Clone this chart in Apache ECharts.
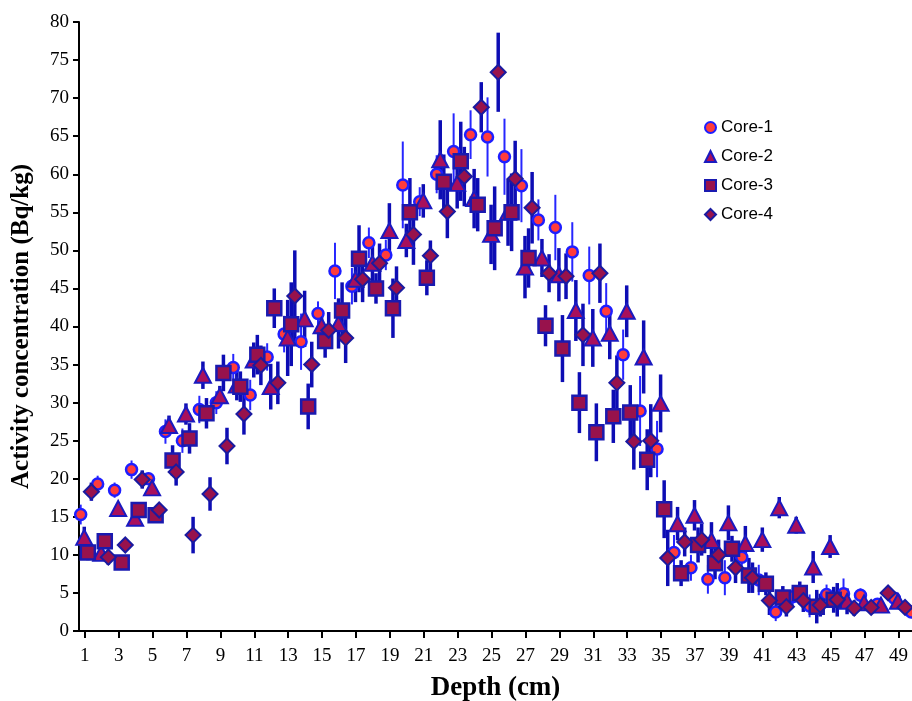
<!DOCTYPE html>
<html>
<head>
<meta charset="utf-8">
<script src="https://cdn.jsdelivr.net/npm/echarts@6/dist/echarts.min.js"></script>
<style>
html,body{margin:0;padding:0;background:#fff;}
#chart{width:912px;height:701px;}
</style>
</head>
<body>
<div id="chart"></div>
<script>
// Depth index (cm)
const depths = [1,2,3,4,5,6,7,8,9,10,11,12,13,14,15,16,17,18,19,20,21,22,23,24,25,26,27,28,29,30,31,32,33,34,35,36,37,38,39,40,41,42,43,44,45,46,47,48,49,50];
const xTickValues = [1,3,5,7,9,11,13,15,17,19,21,23,25,27,29,31,33,35,37,39,41,43,45,47,49];
const seriesNames = ['Core-1','Core-2','Core-3','Core-4'];

// Activity concentration (Bq/kg)
const core1 = [15.3,19.3,18.5,21.2,20.0,26.2,25.0,29.1,30.0,34.6,31.0,36.0,39.0,38.0,41.7,47.3,45.3,51.0,49.4,58.6,56.4,60.0,63.0,65.2,64.9,62.3,58.5,54.0,53.0,49.8,46.7,42.0,36.3,28.9,23.9,10.3,8.3,6.8,7.0,9.7,6.7,2.5,4.5,3.3,4.8,4.9,4.7,3.5,4.3,2.5];
const core1Err = [1.3,1.1,1.0,1.2,0.8,1.6,1.6,1.8,1.5,1.8,2.0,1.8,2.4,3.7,1.6,3.7,2.4,2.0,2.0,5.7,1.9,2.5,5.0,3.2,5.2,5.0,4.8,2.7,4.3,3.9,3.8,3.7,3.3,4.6,3.7,2.3,1.7,1.9,2.3,1.7,2.0,1.2,1.2,1.5,1.3,2.0,0.9,0.8,0.8,0.7];

const core2 = [12.3,10.2,16.1,14.8,18.8,27.0,28.5,33.6,30.9,32.3,35.6,32.1,38.5,41.0,40.1,40.4,46.2,48.3,52.6,51.3,56.5,61.9,58.8,56.8,52.1,55.0,47.8,49.0,46.8,42.1,38.5,39.1,42.0,36.0,29.9,14.1,15.2,11.9,14.2,11.5,12.0,16.2,13.9,8.4,11.1,3.9,3.7,3.4,3.9];
const core2Err = [1.4,0.8,0.5,0.8,1.0,1.3,1.4,1.8,1.3,2.0,2.3,3.0,5.0,3.7,2.0,3.3,3.0,3.0,3.6,2.2,2.2,5.2,3.3,3.9,3.9,4.4,4.1,2.5,3.5,4.0,3.8,3.4,3.4,4.8,3.8,2.2,2.0,2.4,2.3,2.3,1.6,1.4,1.1,2.1,1.5,1.7,0.8,0.8,0.7];

const core3 = [10.3,11.8,9.0,15.9,15.2,22.4,25.3,28.6,33.9,32.1,36.3,42.4,40.3,29.5,38.1,42.1,48.9,45.0,42.4,55.0,46.4,59.0,61.7,56.0,52.9,55.0,49.0,40.1,37.1,30.0,26.1,28.2,28.7,22.5,16.0,7.6,11.3,8.9,10.8,7.3,6.2,4.4,5.0,3.2,4.1];
const core3Err = [1.0,1.0,0.6,0.9,1.0,2.0,2.0,2.0,2.4,2.0,2.6,2.6,5.5,3.0,2.2,3.7,4.4,2.0,3.9,4.5,2.3,3.6,5.2,3.5,5.5,5.1,3.9,2.7,4.4,4.0,3.8,3.5,3.6,4.0,3.8,1.7,2.3,2.1,1.7,2.3,1.5,1.5,1.5,2.2,1.7];

const core4 = [18.3,9.7,11.3,19.9,15.9,20.9,12.6,18.0,24.3,28.5,34.9,32.6,44.0,35.0,39.5,38.5,46.2,48.3,45.1,52.1,49.3,55.1,59.7,68.8,73.4,59.4,55.6,47.0,46.6,38.9,47.0,32.6,24.9,25.0,9.6,11.7,12.0,10.0,8.3,7.0,4.0,3.2,4.0,3.4,4.1,3.0,3.1,5.0,3.1];
const core4Err = [1.2,1.0,0.5,1.2,0.8,1.8,2.4,2.2,2.4,2.7,2.6,2.8,6.0,3.0,2.4,3.3,3.0,2.6,2.8,4.0,2.0,3.5,3.9,3.3,5.2,5.0,4.7,2.5,3.0,4.1,3.9,3.6,3.7,4.8,3.7,1.9,2.1,2.0,2.0,2.0,1.9,1.3,1.5,1.5,2.2,1.0,0.8,0.8,0.7];

const chart = echarts.init(document.getElementById('chart'), null, {renderer:'canvas'});

function pts(vals, off){ return vals.map((v,i)=>[depths[i]+off, v]); }
function errs(vals, e, off){ return vals.map((v,i)=>[depths[i]+off, v-e[i], v+e[i]]); }
function errSeries(name, vals, e, off, color, width){
  return {
    type:'custom', name:name, data:errs(vals,e,off), clip:false,
    encode:{x:0, y:[1,2]},
    renderItem:function(params, api){
      const x = api.value(0);
      const lo = api.coord([x, api.value(1)]);
      const hi = api.coord([x, api.value(2)]);
      return {type:'line', shape:{x1:lo[0],y1:lo[1],x2:hi[0],y2:hi[1]}, style:{stroke:color, lineWidth:width}};
    },
    z:2
  };
}
const offs = [-0.24, -0.03, 0.18, 0.39];
const barDark = '#0d0db4';
const serif = '"Liberation Serif","Times New Roman",serif';

chart.setOption({
  animation:false,
  backgroundColor:'#fff',
  grid:{left:79, right:0, top:22, bottom:70, outerBoundsMode:'none', containLabel:false},
  legend:{
    data:seriesNames, orient:'vertical', left:699, top:114,
    itemWidth:11, itemHeight:11, itemGap:12,
    textStyle:{fontFamily:'"Liberation Sans",Arial,sans-serif', fontSize:17, color:'#000'}
  },
  xAxis:{
    type:'value', min:0.66, max:49.8,
    name:'Depth (cm)', nameLocation:'middle', nameGap:44,
    nameTextStyle:{fontFamily:serif, fontWeight:'bold', fontSize:27, color:'#000'},
    axisLine:{lineStyle:{color:'#000', width:2}},
    axisTick:{customValues:xTickValues, length:7, lineStyle:{color:'#000', width:2}},
    axisLabel:{customValues:xTickValues, margin:16, fontFamily:serif, fontSize:19, color:'#000'},
    splitLine:{show:false}
  },
  yAxis:{
    type:'value', min:0, max:80, interval:5,
    name:'Activity concentration (Bq/kg)', nameLocation:'middle', nameGap:45,
    nameTextStyle:{fontFamily:serif, fontWeight:'bold', fontSize:25, color:'#000'},
    axisLine:{show:true, lineStyle:{color:'#000', width:2}},
    axisTick:{show:true, length:6, lineStyle:{color:'#000', width:2}},
    axisLabel:{margin:10, fontFamily:serif, fontSize:19, color:'#000'},
    splitLine:{show:false}
  },
  series:[
    errSeries('e2', core2, core2Err, offs[1], barDark, 3.5),
    errSeries('e3', core3, core3Err, offs[2], barDark, 3.5),
    errSeries('e4', core4, core4Err, offs[3], barDark, 3.5),
    {type:'scatter', name:'Core-1', data:pts(core1, offs[0]), symbol:'circle', symbolSize:11, clip:false, z:3,
      itemStyle:{color:'#ff3c3c', borderColor:'#1e1eff', borderWidth:2.5, opacity:1}},
    Object.assign(errSeries('e1', core1, core1Err, offs[0], '#2626ff', 2), {z:3}),
    {type:'scatter', name:'Core-2', data:pts(core2, offs[1]), symbol:'triangle', symbolSize:[16,15], clip:false, z:3,
      itemStyle:{color:'#a8105c', borderColor:'#1a1ac0', borderWidth:2, opacity:1}},
    {type:'scatter', name:'Core-3', data:pts(core3, offs[2]), symbol:'rect', symbolSize:14, clip:false, z:3,
      itemStyle:{color:'#98124c', borderColor:'#1a1ab0', borderWidth:2.5, opacity:1}},
    {type:'scatter', name:'Core-4', data:pts(core4, offs[3]), symbol:'diamond', symbolSize:[15,15], clip:false, z:3,
      itemStyle:{color:'#98124c', borderColor:'#1a1aa0', borderWidth:2, opacity:1}}
  ]
});
</script>
</body>
</html>
